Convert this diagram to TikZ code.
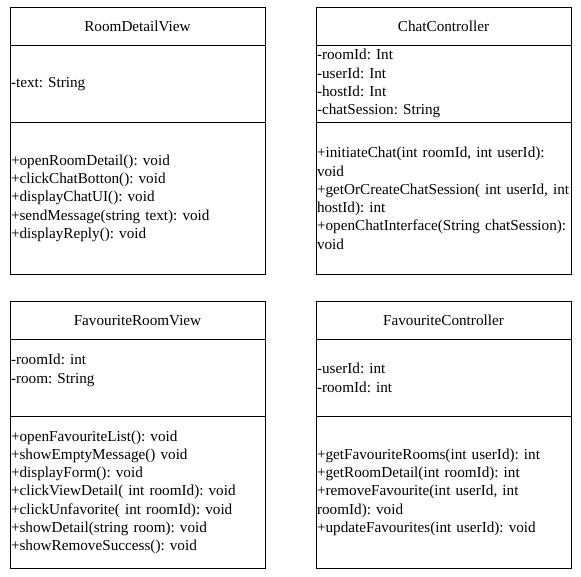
\documentclass[tikz,border=0pt]{standalone}
\usepackage{fontspec}
\setmainfont{Liberation Serif}
\frenchspacing
\usetikzlibrary{positioning}
\tikzset{
  classbox/.style={rectangle,draw=black,line width=1pt,outer sep=0pt,minimum width=255pt,text width=253pt,inner xsep=1pt,inner ysep=0pt,font=\fontsize{15.2}{18.3}\selectfont},
  classname/.style={classbox,align=center,minimum height=38.5pt},
  classattr/.style={classbox,align=left,minimum height=76.5pt},
  classops/.style={classbox,align=left,minimum height=152.5pt},
}

\begin{document}
\begin{tikzpicture}[x=1pt,y=1pt]
	\useasboundingbox (0,0) rectangle (581,-576);
	\node[classname,anchor=north west] (RV) at (10,-7) {RoomDetailView};
	\node[classattr,below=0pt of RV] (RVa) {-text: String};
	\node[classops,below=0pt of RVa] (RVo) {+openRoomDetail(): void\\+clickChatBotton(): void\\+displayChatUI(): void\\+sendMessage(string text): void\\+displayReply(): void};
	\node[classname,right=51pt of RV] (CC) {ChatController};
	\node[classattr,below=0pt of CC] (CCa) {-roomId: Int\\-userId: Int\\-hostId: Int\\-chatSession: String};
	\node[classops,below=0pt of CCa] (CCo) {+initiateChat(int roomId, int userId):\\void\\\mbox{+getOrCreateChatSession( int userId, int}\\hostId): int\\+openChatInterface(String chatSession):\\void};
	\node[classname,anchor=north west] (FV) at (10,-301) {FavouriteRoomView};
	\node[classattr,below=0pt of FV] (FVa) {-roomId: int\\-room: String\\\mbox{}};
	\node[classops,below=0pt of FVa] (FVo) {+openFavouriteList(): void\\+showEmptyMessage() void\\+displayForm(): void\\+clickViewDetail( int roomId): void\\+clickUnfavorite( int roomId): void\\+showDetail(string room): void\\+showRemoveSuccess(): void};
	\node[classname,right=51pt of FV] (FC) {FavouriteController};
	\node[classattr,below=0pt of FC] (FCa) {-userId: int\\-roomId: int};
	\node[classops,below=0pt of FCa] (FCo) {+getFavouriteRooms(int userId): int\\+getRoomDetail(int roomId): int\\+removeFavourite(int userId, int\\roomId): void\\+updateFavourites(int userId): void};
\end{tikzpicture}
\end{document}
